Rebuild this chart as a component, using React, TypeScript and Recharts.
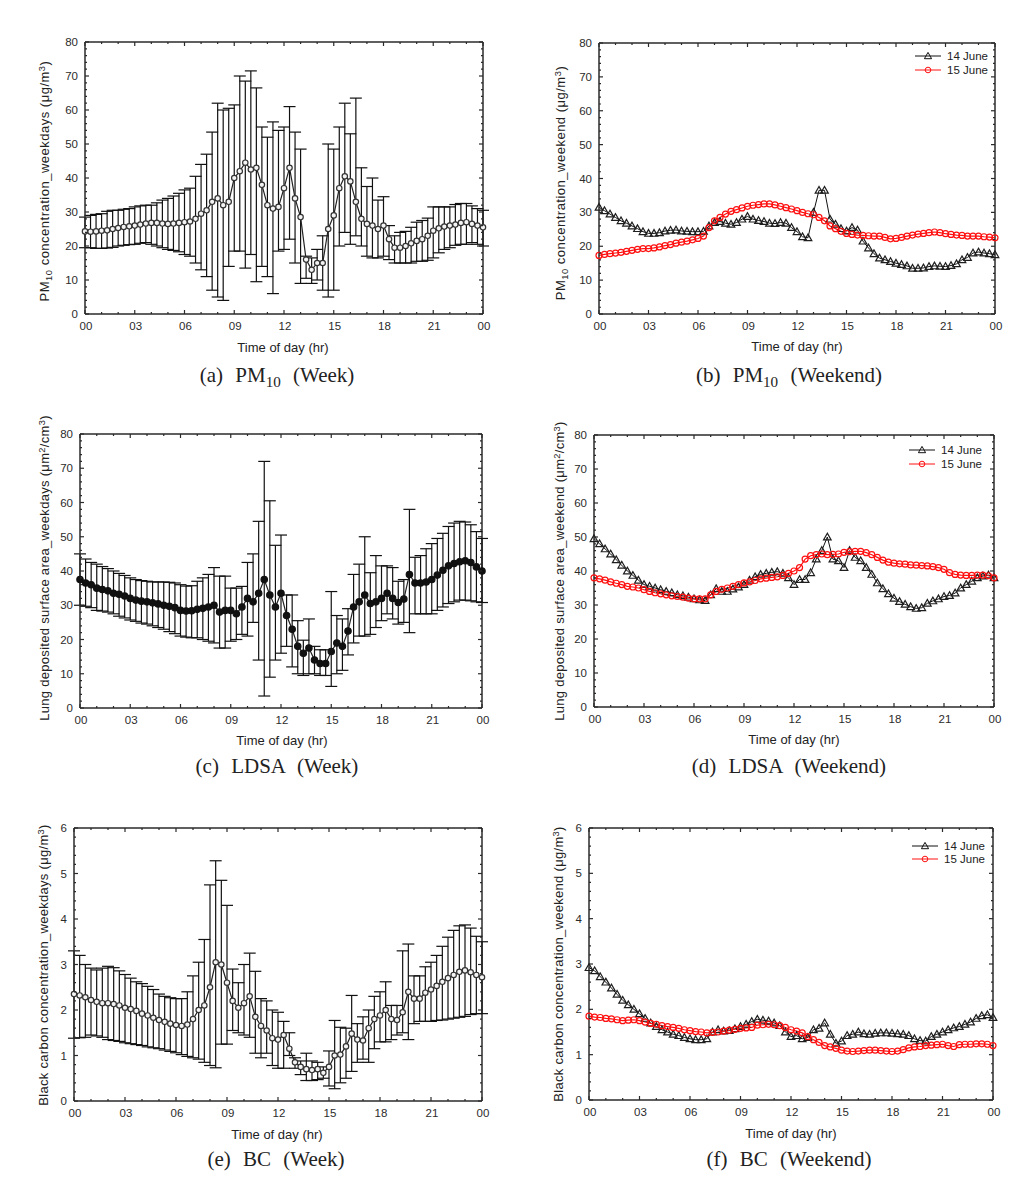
import React from 'react';
import { ComposedChart, Line, XAxis, YAxis, ErrorBar, ReferenceLine } from 'recharts';

// 20-minute sampling grid, 00:00 .. 24:00
const HOURS = Array.from({ length: 73 }, (_, i) => i / 3);
const HOUR_TICKS = [0, 1, 2, 3, 4, 5, 6, 7, 8, 9, 10, 11, 12, 13, 14, 15, 16, 17, 18, 19, 20, 21, 22, 23, 24];
const X_LABELS = ['00', '03', '06', '09', '12', '15', '18', '21', '00'];

const Y_TICKS_80 = [0, 2, 4, 6, 8, 10, 12, 14, 16, 18, 20, 22, 24, 26, 28, 30, 32, 34, 36, 38, 40, 42, 44, 46, 48, 50, 52, 54, 56, 58, 60, 62, 64, 66, 68, 70, 72, 74, 76, 78, 80];
const Y_TICKS_6 = [0, 0.2, 0.4, 0.6, 0.8, 1, 1.2, 1.4, 1.6, 1.8, 2, 2.2, 2.4, 2.6, 2.8, 3, 3.2, 3.4, 3.6, 3.8, 4, 4.2, 4.4, 4.6, 4.8, 5, 5.2, 5.4, 5.6, 5.8, 6];

// (a) PM10 weekdays: mean, upper and lower end of error bar
const PM_WK_MEAN = [
  24.3, 24.2, 24.3, 24.5, 24.6, 25.0, 25.3, 25.6, 25.8, 26.0, 26.3, 26.6,
  26.8, 26.8, 26.6, 26.5, 26.6, 26.8, 27.0, 27.2, 28.0, 29.5, 30.5, 33.0,
  34.0, 32.0, 33.0, 40.0, 42.0, 44.5, 42.5, 43.0, 38.0, 32.0, 31.0, 31.5,
  37.0, 43.0, 34.0, 28.5, 16.0, 13.0, 15.0, 15.0, 25.0, 29.0, 37.0, 40.5,
  39.0, 33.0, 28.0, 26.5, 26.0, 25.0, 26.0, 22.0, 19.5, 19.5, 20.0, 20.8,
  21.5, 22.0, 23.0, 24.5, 25.2, 25.7, 26.0, 26.3, 26.8, 27.0, 26.5, 26.0,
  25.5,
];
const PM_WK_HI = [
  28.5, 29.0, 29.3, 29.5, 30.2, 30.5, 30.5, 30.8, 31.0, 31.5, 31.8, 32.0,
  32.0, 32.7, 33.5, 34.0, 34.7, 35.5, 36.5, 37.0, 40.5, 44.0, 47.0, 53.5,
  62.0, 60.0, 60.5, 61.5, 70.0, 68.5, 71.5, 66.5, 55.0, 52.0, 56.5, 54.0,
  55.0, 61.0, 53.5, 48.5, 17.0, 16.5, 19.0, 23.0, 50.0, 48.5, 55.0, 62.0,
  53.0, 63.5, 43.0, 37.5, 40.0, 33.5, 34.5, 26.0, 23.0, 24.0, 24.3, 25.5,
  27.0, 27.5, 28.2, 31.5, 31.5, 31.5, 31.5, 32.2, 32.5, 32.5, 31.8, 31.0,
  30.5,
];
const PM_WK_LO = [
  19.5, 19.5, 19.3, 19.3, 19.4, 19.6, 20.0, 20.2, 20.4, 20.5, 20.8, 21.0,
  20.5, 20.0, 19.5, 19.0, 18.7, 18.3, 17.5, 17.0, 15.0, 13.0, 11.0, 7.0,
  5.0, 4.0, 14.0, 18.5, 18.5, 13.5, 17.5, 9.5, 14.0, 11.0, 6.0, 18.5,
  19.0, 22.0, 15.0, 9.0, 10.5, 9.0, 10.0, 7.0, 5.0, 7.0, 20.0, 24.0,
  20.5, 23.0, 20.0, 17.0, 16.5, 16.5, 17.0, 16.0, 15.0, 15.0, 15.0, 15.0,
  15.5, 15.5, 15.8, 16.5, 18.0, 19.0, 19.5, 20.2, 20.5, 20.5, 21.0, 20.5,
  20.0,
];

// (b) PM10 weekend
const PM_WE_14 = [
  31.5, 30.5, 29.5, 28.5, 27.5, 26.8, 26.0, 25.2, 24.3, 23.8, 23.8, 24.0,
  24.5, 24.7, 24.8, 24.5, 24.4, 24.3, 24.3, 24.4, 26.0, 27.0, 27.3, 26.8,
  26.5, 27.0, 28.0, 28.8, 28.0, 27.6, 27.3, 26.8, 26.7, 27.0, 26.8, 25.5,
  24.3, 22.8, 22.5, 30.0, 36.5, 36.5, 28.0, 26.5, 25.2, 24.5, 25.5, 24.8,
  21.5, 19.5, 17.8, 16.5, 16.0, 15.5, 15.0, 14.6, 14.2, 13.5, 13.5, 13.6,
  14.0, 14.2, 14.1, 14.0, 14.3, 14.8, 16.0, 16.7, 18.0, 18.3, 18.0, 17.8,
  17.5,
];
const PM_WE_15 = [
  17.3, 17.6, 17.8, 18.0, 18.2, 18.5, 18.8, 19.1, 19.3, 19.3, 19.5, 19.8,
  20.2, 20.5, 20.9, 21.2, 21.5, 21.9, 22.3, 23.0, 25.5, 27.5, 28.5, 29.5,
  30.3, 30.8, 31.3, 31.8, 32.1, 32.3, 32.5, 32.5, 32.2, 31.8, 31.4, 31.0,
  30.5, 30.0, 29.6, 29.3, 28.5, 27.5, 26.0, 25.2, 24.4, 23.8, 23.5, 23.3,
  23.2, 23.1, 23.0, 23.0, 22.6, 22.2, 22.3, 22.6, 23.0, 23.3, 23.6, 23.8,
  24.0, 24.2, 24.0, 23.7, 23.5, 23.3, 23.2, 23.0, 23.0, 23.0, 22.8, 22.7,
  22.5,
];

// (c) LDSA weekdays
const LD_WK_MEAN = [
  37.5, 36.5, 36.0, 35.0, 34.6, 34.2, 33.5, 33.2, 32.7, 32.0, 31.5, 31.2,
  31.0, 30.7, 30.4, 30.0, 29.7, 29.3, 28.5, 28.3, 28.4, 28.8, 29.1, 29.5,
  30.0, 28.0, 28.5, 28.5, 27.5, 29.5, 32.0, 31.0, 33.5, 37.5, 33.0, 29.5,
  33.5, 27.0, 23.0, 18.0, 16.0, 17.5, 14.0, 13.0, 13.0, 16.5, 19.0, 18.0,
  22.5, 29.5, 31.0, 33.0, 30.5, 31.0, 32.0, 33.5, 32.0, 30.8, 31.8, 39.0,
  36.5, 36.5, 36.8, 37.5, 38.8, 40.2, 41.5, 42.2, 42.7, 43.0, 42.5, 41.2,
  40.0,
];
const LD_WK_HI = [
  45.0, 43.5, 42.5, 42.0, 41.3, 40.7, 40.0, 39.3, 38.7, 38.0, 37.5, 37.2,
  37.0, 36.8, 36.8, 36.8, 36.7, 36.5, 36.0, 35.6, 35.7, 37.0, 38.0, 39.0,
  41.0, 38.5, 38.5, 35.0, 35.0, 35.5, 42.5, 45.0, 54.5, 72.0, 60.5, 47.5,
  50.5, 33.0, 33.0, 25.5, 19.8, 26.0, 18.0, 17.0, 17.0, 34.0, 27.0, 26.0,
  29.0, 39.0, 42.0, 50.0, 39.5, 44.5, 41.5, 41.5, 41.0, 37.0, 37.5, 58.0,
  44.0, 44.5, 46.5, 48.0, 49.5, 51.0, 53.0, 54.0, 54.5, 54.3, 53.5, 51.5,
  49.5,
];
const LD_WK_LO = [
  30.0, 29.7, 29.3, 28.5, 28.3, 28.0, 27.5, 26.8, 26.3, 25.7, 25.3, 24.8,
  24.5, 24.0, 23.5, 23.0, 22.3, 21.7, 21.0, 20.7, 20.5, 20.5, 20.0, 19.5,
  19.0, 17.5, 17.5, 19.5, 20.0, 21.5, 21.0, 25.0, 14.0, 3.5, 9.0, 14.0,
  16.0, 18.0, 12.0, 10.0, 9.5, 10.0, 10.0, 9.5, 9.5, 6.3, 10.0, 11.0,
  15.5, 19.0, 21.0, 21.0, 21.5, 23.5, 25.5, 27.5, 26.0, 24.5, 25.0, 22.0,
  27.5, 27.5, 27.5, 27.5, 28.5, 29.5, 30.5, 31.0, 31.5, 31.5, 31.3, 31.0,
  30.8,
];

// (d) LDSA weekend
const LD_WE_14 = [
  49.5, 48.0, 46.5, 45.0, 43.3, 41.7, 40.0, 38.7, 37.3, 36.0, 35.5, 35.0,
  34.5, 34.0, 33.6, 33.0, 32.7, 32.3, 31.8, 31.5, 31.3, 33.0, 34.8, 34.0,
  34.0, 34.7, 35.3, 36.0, 37.3, 38.3, 39.0, 39.3, 39.6, 39.8, 39.3, 38.0,
  36.0, 37.5, 37.5, 39.5, 43.5, 46.0, 50.0, 43.5, 43.0, 41.0, 46.0, 44.0,
  43.0, 41.0, 39.0, 36.5, 34.8, 33.3, 32.0, 31.0, 30.2, 29.5, 29.0, 29.2,
  30.5, 31.2, 31.8, 32.5, 32.8, 33.5, 35.0, 36.0, 37.0, 38.0, 38.5, 38.8,
  38.0,
];
const LD_WE_15 = [
  38.0, 37.7, 37.3, 36.8, 36.4, 36.0, 35.5, 35.3, 35.0, 34.5, 34.0, 33.6,
  33.3, 33.0, 32.7, 32.5, 32.3, 32.0, 31.8, 31.8, 31.8, 33.0, 34.0, 34.6,
  35.0, 35.5, 36.0, 36.5, 36.8, 37.2, 37.7, 37.9, 38.1, 38.3, 38.7, 39.3,
  40.0, 41.0, 43.5, 44.5, 44.8, 45.0, 44.8, 44.9, 45.0, 45.5, 45.7, 45.8,
  45.8, 45.4, 44.8, 44.0, 43.2, 42.6, 42.3, 42.1, 42.0, 41.8, 41.7, 41.6,
  41.5, 41.3, 41.0, 40.5, 39.5, 39.0, 38.8, 38.7, 38.7, 38.8, 38.8, 38.6,
  38.0,
];

// (e) BC weekdays
const BC_WK_MEAN = [
  2.35, 2.32, 2.28, 2.22, 2.18, 2.15, 2.15, 2.13, 2.10, 2.05, 2.02, 1.98,
  1.92, 1.88, 1.83, 1.78, 1.74, 1.70, 1.67, 1.65, 1.68, 1.80, 2.00, 2.10,
  2.50, 3.05, 3.00, 2.60, 2.20, 2.05, 2.15, 2.30, 1.85, 1.65, 1.55, 1.38,
  1.35, 1.45, 1.15, 0.85, 0.75, 0.70, 0.68, 0.70, 0.62, 0.75, 1.00, 1.02,
  1.20, 1.48, 1.35, 1.33, 1.60, 1.80, 1.88, 2.00, 1.80, 1.78, 1.95, 2.40,
  2.25, 2.25, 2.38, 2.45, 2.53, 2.62, 2.70, 2.77, 2.84, 2.87, 2.83, 2.77,
  2.72,
];
const BC_WK_HI = [
  3.30, 3.20, 3.00, 2.92, 2.88, 2.92, 2.96, 2.93, 2.86, 2.78, 2.70, 2.62,
  2.58, 2.52, 2.45, 2.35, 2.30, 2.27, 2.25, 2.25, 2.40, 2.75, 3.05, 3.55,
  4.75, 5.28, 4.85, 4.30, 2.90, 2.60, 3.00, 3.25, 2.85, 2.25, 2.20, 2.00,
  1.95, 1.75, 1.50, 0.95, 0.88, 1.05, 0.88, 0.85, 0.75, 1.10, 1.77, 1.62,
  1.60, 2.32, 1.70, 1.85, 2.00, 2.30, 2.40, 2.62, 2.10, 2.10, 3.30, 3.45,
  2.75, 2.75, 2.95, 3.05, 3.20, 3.40, 3.60, 3.75, 3.85, 3.87, 3.80, 3.62,
  3.50,
];
const BC_WK_LO = [
  1.38, 1.39, 1.40, 1.45, 1.43, 1.40, 1.35, 1.33, 1.31, 1.28, 1.26, 1.24,
  1.22, 1.19, 1.17, 1.15, 1.12, 1.09, 1.06, 1.02, 0.98, 0.95, 0.92, 0.85,
  0.78, 0.73, 1.25, 1.25, 1.55, 1.50, 1.45, 1.40, 1.05, 0.95, 1.05, 0.78,
  0.72, 0.72, 1.00, 0.72, 0.58, 0.45, 0.45, 0.47, 0.50, 0.33, 0.27, 0.40,
  0.50, 0.65, 0.85, 0.92, 0.85, 1.15, 1.30, 1.30, 1.35, 1.45, 1.50, 1.35,
  1.70, 1.75, 1.75, 1.75, 1.77, 1.78, 1.80, 1.82, 1.84, 1.86, 1.90, 1.92,
  1.92,
];

// (f) BC weekend
const BC_WE_14 = [
  2.92, 2.85, 2.72, 2.60, 2.47, 2.33, 2.20, 2.10, 2.00, 1.90, 1.80, 1.70,
  1.62, 1.55, 1.50, 1.45, 1.42, 1.38, 1.35, 1.33, 1.33, 1.35, 1.50, 1.55,
  1.52, 1.53, 1.57, 1.62, 1.67, 1.73, 1.78, 1.76, 1.74, 1.70, 1.64, 1.50,
  1.40, 1.42, 1.35, 1.38, 1.55, 1.58, 1.70, 1.45, 1.25, 1.30, 1.42, 1.45,
  1.50, 1.46, 1.45, 1.47, 1.48, 1.48, 1.47, 1.46, 1.45, 1.42, 1.35, 1.31,
  1.30, 1.40, 1.45, 1.50, 1.55, 1.59, 1.62, 1.67, 1.72, 1.80, 1.86, 1.88,
  1.82,
];
const BC_WE_15 = [
  1.85, 1.83, 1.82, 1.80, 1.79, 1.77, 1.75, 1.76, 1.77, 1.75, 1.72, 1.69,
  1.67, 1.64, 1.62, 1.60, 1.58, 1.55, 1.53, 1.51, 1.50, 1.48, 1.49, 1.50,
  1.52, 1.54, 1.56, 1.58, 1.59, 1.60, 1.65, 1.66, 1.67, 1.66, 1.64, 1.60,
  1.55, 1.52, 1.48, 1.40, 1.33, 1.27, 1.20, 1.17, 1.14, 1.10, 1.08, 1.07,
  1.08, 1.09, 1.10, 1.10, 1.09, 1.08, 1.07, 1.08, 1.11, 1.15, 1.17, 1.18,
  1.20, 1.21, 1.22, 1.23, 1.20, 1.18, 1.22, 1.23, 1.23, 1.24, 1.24, 1.23,
  1.20,
];

const SANS = '"Liberation Sans", Arial, Helvetica, sans-serif';
const SERIF = '"Liberation Serif", "Times New Roman", serif';
const AX = '#2a2a2a';
const RED = '#ff1010';

const weekTable = (mean: number[], hi: number[], lo: number[]) =>
  HOURS.map((h, i) => ({ h, m: mean[i], e: [mean[i] - lo[i], hi[i] - mean[i]] }));
const endTable = (a: number[], b: number[]) => HOURS.map((h, i) => ({ h, a: a[i], b: b[i] }));

const isMult = (v: number, step: number) => Math.abs(v / step - Math.round(v / step)) < 1e-6;

const XTick = (props: any) => {
  const { x, payload, top, bottom } = props;
  const v = payload.value;
  const major = v % 3 === 0;
  const len = major ? 4 : 2;
  return (
    <g>
      <line x1={x} x2={x} y1={bottom} y2={bottom - len} stroke={AX} strokeWidth={1.2} />
      <line x1={x} x2={x} y1={top} y2={top + len} stroke={AX} strokeWidth={1.2} />
      {major && (
        <text x={x + 1} y={bottom + 16} textAnchor="middle" fontSize={11.5} fill="#2b2b2b" fontFamily={SANS}>
          {X_LABELS[v / 3]}
        </text>
      )}
    </g>
  );
};

const YTick = (props: any) => {
  const { y, payload, left, right, step } = props;
  const v = payload.value;
  const major = isMult(v, step);
  const len = major ? 4 : 2;
  return (
    <g>
      <line x1={left} x2={left + len} y1={y} y2={y} stroke={AX} strokeWidth={1.2} />
      <line x1={right} x2={right - len} y1={y} y2={y} stroke={AX} strokeWidth={1.2} />
      {major && (
        <text x={left - 7} y={y + 4} textAnchor="end" fontSize={11.5} fill="#2b2b2b" fontFamily={SANS}>
          {Math.round(v)}
        </text>
      )}
    </g>
  );
};

const Tri = (props: any) => {
  const { cx, cy } = props;
  if (cx == null || cy == null) return null;
  const s = 3.8;
  return (
    <polygon
      points={`${cx},${cy - s} ${cx - s},${cy + s * 0.75} ${cx + s},${cy + s * 0.75}`}
      fill="none"
      stroke="#1e1e1e"
      strokeWidth={1.2}
    />
  );
};

type Rect = { x: number; y: number; w: number; h: number };

function Panel({ rect, col, yMax, yTicks, yStep, children, data }: any) {
  const CL = col === 0 ? 0 : 511;
  const CW = 512;
  const padTop = 20;
  const padBottom = 40;
  const r: Rect = rect;
  const left = r.x - CL;
  const top = padTop;
  const bottom = padTop + r.h;
  return (
    <div style={{ position: 'absolute', left: CL, top: r.y - padTop }}>
      <ComposedChart
        width={CW}
        height={r.h + padTop + padBottom}
        data={data}
        margin={{ top: padTop, left: left - 1, right: CW - left - r.w, bottom: padBottom - 1 }}
      >
        <XAxis
          dataKey="h"
          type="number"
          domain={[0, 24]}
          ticks={HOUR_TICKS}
          interval={0}
          height={1}
          tickLine={false}
          axisLine={{ stroke: AX, strokeWidth: 1.5 }}
          tick={<XTick top={top} bottom={bottom} />}
        />
        <YAxis
          type="number"
          domain={[0, yMax]}
          ticks={yTicks}
          interval={0}
          width={1}
          tickLine={false}
          axisLine={{ stroke: AX, strokeWidth: 1.5 }}
          tick={<YTick left={left} right={left + r.w} step={yStep} />}
        />
        <ReferenceLine y={yMax} stroke={AX} strokeWidth={1.5} />
        <ReferenceLine x={24} stroke={AX} strokeWidth={1.5} />
        {children}
      </ComposedChart>
    </div>
  );
}

const weekSeries = (filled: boolean) => (
  <Line
    dataKey="m"
    stroke="#222"
    strokeWidth={1.2}
    isAnimationActive={false}
    dot={{ r: filled ? 3.2 : 2.7, stroke: filled ? '#111' : '#333', strokeWidth: 1.2, fill: filled ? '#111' : '#f4f4f4' }}
  >
    <ErrorBar dataKey="e" direction="y" width={6} stroke="#111" strokeWidth={1.2} isAnimationActive={false} />
  </Line>
);

const endSeries = () => [
  <Line key="a" dataKey="a" stroke="#111" strokeWidth={1} isAnimationActive={false} dot={<Tri />} />,
  <Line
    key="b"
    dataKey="b"
    stroke={RED}
    strokeWidth={1.2}
    isAnimationActive={false}
    dot={{ r: 3, stroke: RED, strokeWidth: 1.2, fill: 'none' }}
  />,
];

const sub = (t: string) => <span style={{ fontSize: '0.72em', position: 'relative', top: '0.3em' }}>{t}</span>;
const sup = (t: string) => <span style={{ fontSize: '0.72em', position: 'relative', top: '-0.45em' }}>{t}</span>;

function VLabel({ cx, cy, children, spacing }: any) {
  return (
    <div
      style={{
        position: 'absolute',
        left: cx - 200,
        top: cy - 8,
        width: 400,
        height: 16,
        lineHeight: '16px',
        textAlign: 'center',
        transform: 'rotate(-90deg)',
        fontSize: 13,
        letterSpacing: spacing ?? 0.3,
        fontFamily: SANS,
        color: '#222',
        whiteSpace: 'nowrap',
      }}
    >
      {children}
    </div>
  );
}

function HText({ cx, cy, size, family, children, spacing }: any) {
  return (
    <div
      style={{
        position: 'absolute',
        left: cx - 200,
        top: cy - size * 0.6,
        width: 400,
        lineHeight: `${size * 1.2}px`,
        textAlign: 'center',
        fontSize: size,
        fontFamily: family,
        color: '#222',
        whiteSpace: 'pre',
        wordSpacing: spacing || 0,
      }}
    >
      {children}
    </div>
  );
}

function DayLegend({ x, y, gap }: any) {
  const row = (label: string, red: boolean, dy: number) => (
    <div style={{ position: 'absolute', left: 0, top: dy, height: 12, display: 'flex', alignItems: 'center' }}>
      <svg width={27} height={12} style={{ display: 'block' }}>
        <line x1={0} x2={26} y1={6} y2={6} stroke={red ? RED : '#111'} strokeWidth={1} />
        {red ? (
          <circle cx={13} cy={6} r={2.8} fill="none" stroke={RED} strokeWidth={1} />
        ) : (
          <polygon points="13,2.4 9.4,8.7 16.6,8.7" fill="none" stroke="#111" strokeWidth={1} />
        )}
      </svg>
      <span style={{ marginLeft: 5, fontSize: 11.5, fontFamily: SANS, color: '#222', whiteSpace: 'nowrap' }}>{label}</span>
    </div>
  );
  return (
    <div style={{ position: 'absolute', left: x, top: y - 6 }}>
      {row('14 June', false, 0)}
      {row('15 June', true, gap)}
    </div>
  );
}

const RECT_A = { x: 85, y: 42, w: 398, h: 272 };
const RECT_B = { x: 599, y: 43, w: 396, h: 271 };
const RECT_C = { x: 80, y: 434, w: 402, h: 274 };
const RECT_D = { x: 594, y: 435, w: 400, h: 272 };
const RECT_E = { x: 74, y: 828, w: 408, h: 273 };
const RECT_F = { x: 589, y: 828, w: 404, h: 272 };

const midY = (r: Rect) => r.y + r.h / 2;

export default function App() {
  return (
    <div style={{ position: 'absolute', left: 0, top: 0, width: 1023, height: 1184, background: '#fff' }}>
      <Panel rect={RECT_A} col={0} yMax={80} yTicks={Y_TICKS_80} yStep={10} data={weekTable(PM_WK_MEAN, PM_WK_HI, PM_WK_LO)}>
        {weekSeries(false)}
      </Panel>
      <Panel rect={RECT_B} col={1} yMax={80} yTicks={Y_TICKS_80} yStep={10} data={endTable(PM_WE_14, PM_WE_15)}>
        {endSeries()}
      </Panel>
      <Panel rect={RECT_C} col={0} yMax={80} yTicks={Y_TICKS_80} yStep={10} data={weekTable(LD_WK_MEAN, LD_WK_HI, LD_WK_LO)}>
        {weekSeries(true)}
      </Panel>
      <Panel rect={RECT_D} col={1} yMax={80} yTicks={Y_TICKS_80} yStep={10} data={endTable(LD_WE_14, LD_WE_15)}>
        {endSeries()}
      </Panel>
      <Panel rect={RECT_E} col={0} yMax={6} yTicks={Y_TICKS_6} yStep={1} data={weekTable(BC_WK_MEAN, BC_WK_HI, BC_WK_LO)}>
        {weekSeries(false)}
      </Panel>
      <Panel rect={RECT_F} col={1} yMax={6} yTicks={Y_TICKS_6} yStep={1} data={endTable(BC_WE_14, BC_WE_15)}>
        {endSeries()}
      </Panel>

      <DayLegend x={915} y={56} gap={14} />
      <DayLegend x={909} y={450} gap={14} />
      <DayLegend x={912} y={846} gap={13} />

      <VLabel cx={45} cy={181} spacing={0.5}>PM{sub('10')} concentration_weekdays (μg/m{sup('3')})</VLabel>
      <VLabel cx={561} cy={183} spacing={0.5}>PM{sub('10')} concentration_weekend (μg/m{sup('3')})</VLabel>
      <VLabel cx={45} cy={568}>Lung deposited surface area_weekdays (μm{sup('2')}/cm{sup('3')})</VLabel>
      <VLabel cx={560} cy={571}>Lung deposited surface area_weekend (μm{sup('2')}/cm{sup('3')})</VLabel>
      <VLabel cx={44} cy={midY(RECT_E)}>Black carbon concentration_weekdays (μg/m{sup('3')})</VLabel>
      <VLabel cx={559} cy={midY(RECT_F)}>Black carbon concentration_weekend (μg/m{sup('3')})</VLabel>

      <HText cx={283} cy={348} size={13} family={SANS}>Time of day (hr)</HText>
      <HText cx={797} cy={347} size={13} family={SANS}>Time of day (hr)</HText>
      <HText cx={282} cy={741} size={13} family={SANS}>Time of day (hr)</HText>
      <HText cx={794} cy={740} size={13} family={SANS}>Time of day (hr)</HText>
      <HText cx={277} cy={1135} size={13} family={SANS}>Time of day (hr)</HText>
      <HText cx={791} cy={1134} size={13} family={SANS}>Time of day (hr)</HText>

      <HText cx={277} cy={376} size={21} family={SERIF} spacing={7}>(a) PM{sub('10')} (Week)</HText>
      <HText cx={789} cy={376} size={21} family={SERIF} spacing={7}>(b) PM{sub('10')} (Weekend)</HText>
      <HText cx={277} cy={767} size={21} family={SERIF} spacing={7}>(c) LDSA (Week)</HText>
      <HText cx={789} cy={767} size={21} family={SERIF} spacing={7}>(d) LDSA (Weekend)</HText>
      <HText cx={276} cy={1160} size={21} family={SERIF} spacing={7}>(e) BC (Week)</HText>
      <HText cx={789} cy={1160} size={21} family={SERIF} spacing={7}>(f) BC (Weekend)</HText>
    </div>
  );
}
